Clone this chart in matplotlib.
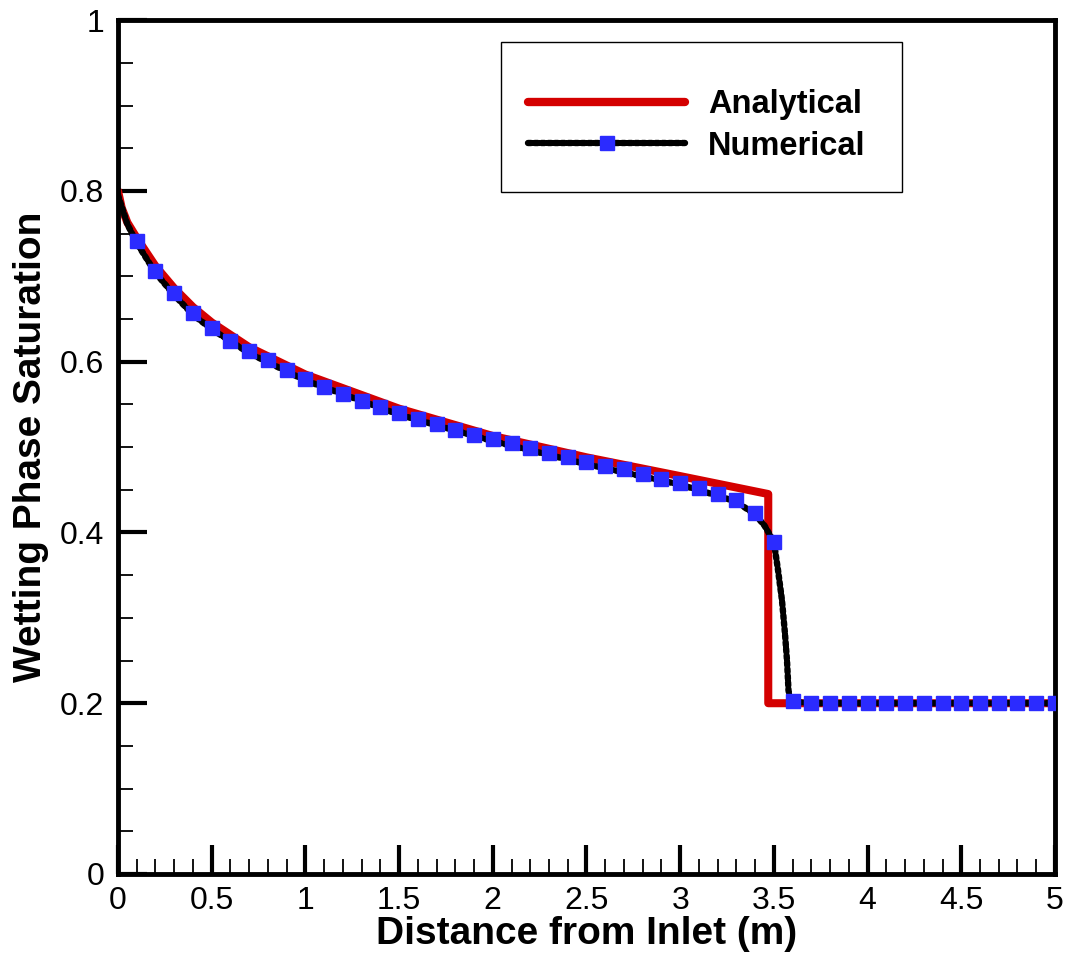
import matplotlib
matplotlib.use("Agg")
import matplotlib.pyplot as plt
from matplotlib.ticker import MultipleLocator
from matplotlib.lines import Line2D
from matplotlib.patches import Rectangle

plt.rcParams['font.family'] = ['Liberation Sans', 'DejaVu Sans']

# Analytical solution
x_analytical = [0.0, 0.02, 0.05, 0.1, 0.2, 0.3, 0.4, 0.5, 0.7, 1.0, 1.5, 2.0, 2.5, 3.0, 3.47, 3.47, 5.0]
s_analytical = [0.800, 0.780, 0.763, 0.745, 0.712, 0.686, 0.664, 0.646, 0.617, 0.585, 0.545,
                0.513, 0.488, 0.466, 0.445, 0.200, 0.200]

# Numerical solution (square markers)
x_numerical = [0.1, 0.2, 0.3, 0.4, 0.5, 0.6, 0.7, 0.8, 0.9, 1.0, 1.1, 1.2, 1.3, 1.4, 1.5,
               1.6, 1.7, 1.8, 1.9, 2.0, 2.1, 2.2, 2.3, 2.4, 2.5, 2.6, 2.7, 2.8, 2.9, 3.0,
               3.1, 3.2, 3.3, 3.4, 3.5, 3.6, 3.7, 3.8, 3.9, 4.0, 4.1, 4.2, 4.3, 4.4, 4.5,
               4.6, 4.7, 4.8, 4.9, 5.0]
s_numerical = [0.741, 0.706, 0.680, 0.657, 0.640, 0.624, 0.612, 0.602, 0.590, 0.580,
               0.570, 0.562, 0.554, 0.547, 0.540, 0.533, 0.527, 0.520, 0.514, 0.509, 0.505,
               0.499, 0.493, 0.488, 0.482, 0.478, 0.474, 0.468, 0.463, 0.458, 0.452, 0.445,
               0.438, 0.423, 0.389, 0.203, 0.200, 0.200, 0.200, 0.200, 0.200, 0.200, 0.200,
               0.200, 0.200, 0.200, 0.200, 0.200, 0.200, 0.200]

# Numerical solution (fine curve, includes front region)
x_fine = [0.0, 0.05, 0.1, 0.2, 0.3, 0.4, 0.5, 0.7, 1.0, 1.5, 2.0, 2.5, 3.0, 3.2, 3.3, 3.4,
          3.45, 3.5, 3.522, 3.543, 3.559, 3.570, 3.578, 3.59, 3.7, 5.0]
s_fine = [0.795, 0.761, 0.739, 0.704, 0.678, 0.655, 0.638, 0.610, 0.578, 0.538, 0.507,
          0.480, 0.456, 0.443, 0.436, 0.421, 0.408, 0.389, 0.356, 0.321, 0.282, 0.250,
          0.215, 0.202, 0.200, 0.200]

fig = plt.figure(figsize=(10.68, 9.6), dpi=100)
ax = fig.add_axes([0.1105, 0.0896, 0.8773, 0.8894])

RED = '#d40000'
BLUE = '#2b2bff'
DOTS = (0, (0.5, 0.55))

ax.plot(x_analytical, s_analytical, color=RED, lw=5.8, solid_joinstyle='round',
        solid_capstyle='round', zorder=2)
ax.plot(x_fine, s_fine, color='black', lw=4.6, linestyle=DOTS,
        dash_capstyle='round', zorder=3)
ax.plot(x_numerical, s_numerical, linestyle='none', marker='s', markersize=10,
        markerfacecolor=BLUE, markeredgecolor=BLUE, zorder=4)

# legend box
ax.add_patch(Rectangle((0.4088, 0.7986), 0.4279, 0.1754, transform=ax.transAxes,
                       fill=True, facecolor='white', edgecolor='black', lw=1.0, zorder=5))
h1 = Line2D([0, 1], [0, 0], color=RED, lw=6, solid_capstyle='round')
h2 = Line2D([0, 0.5, 1], [0, 0, 0], color='black', lw=4.6, linestyle=DOTS,
            dash_capstyle='round', marker='s', markersize=10, markerfacecolor=BLUE,
            markeredgecolor=BLUE, markevery=[1])
leg = ax.legend([h1, h2], ['Analytical', 'Numerical'], loc='center left',
                bbox_to_anchor=(0.438, 0.8765), frameon=False,
                prop={'weight': 'bold', 'size': 23.5}, handlelength=4.8, handletextpad=0.7,
                borderpad=0, labelspacing=0.32, borderaxespad=0)
leg.set_zorder(6)

ax.set_xlim(0, 5)
ax.set_ylim(0, 1)
ax.xaxis.set_major_locator(MultipleLocator(0.5))
ax.xaxis.set_minor_locator(MultipleLocator(0.1))
ax.yaxis.set_major_locator(MultipleLocator(0.2))
ax.yaxis.set_minor_locator(MultipleLocator(0.05))
ax.xaxis.set_major_formatter(plt.FuncFormatter(lambda v, p: f"{v:g}"))
ax.yaxis.set_major_formatter(plt.FuncFormatter(lambda v, p: f"{v:g}"))

ax.tick_params(which='major', direction='in', length=21, width=3, labelsize=23,
               top=False, right=False)
ax.tick_params(axis='x', which='major', pad=9)
ax.tick_params(axis='y', which='major', pad=10)
ax.tick_params(which='minor', direction='in', length=11, width=1.3, top=False, right=False)
for s in ax.spines.values():
    s.set_linewidth(3.5)

ax.set_xlabel('Distance from Inlet (m)', fontsize=28, fontweight='bold', labelpad=0)
ax.set_ylabel('Wetting Phase Saturation', fontsize=28, fontweight='bold', labelpad=8)

fig.savefig('out.png', dpi=100)
